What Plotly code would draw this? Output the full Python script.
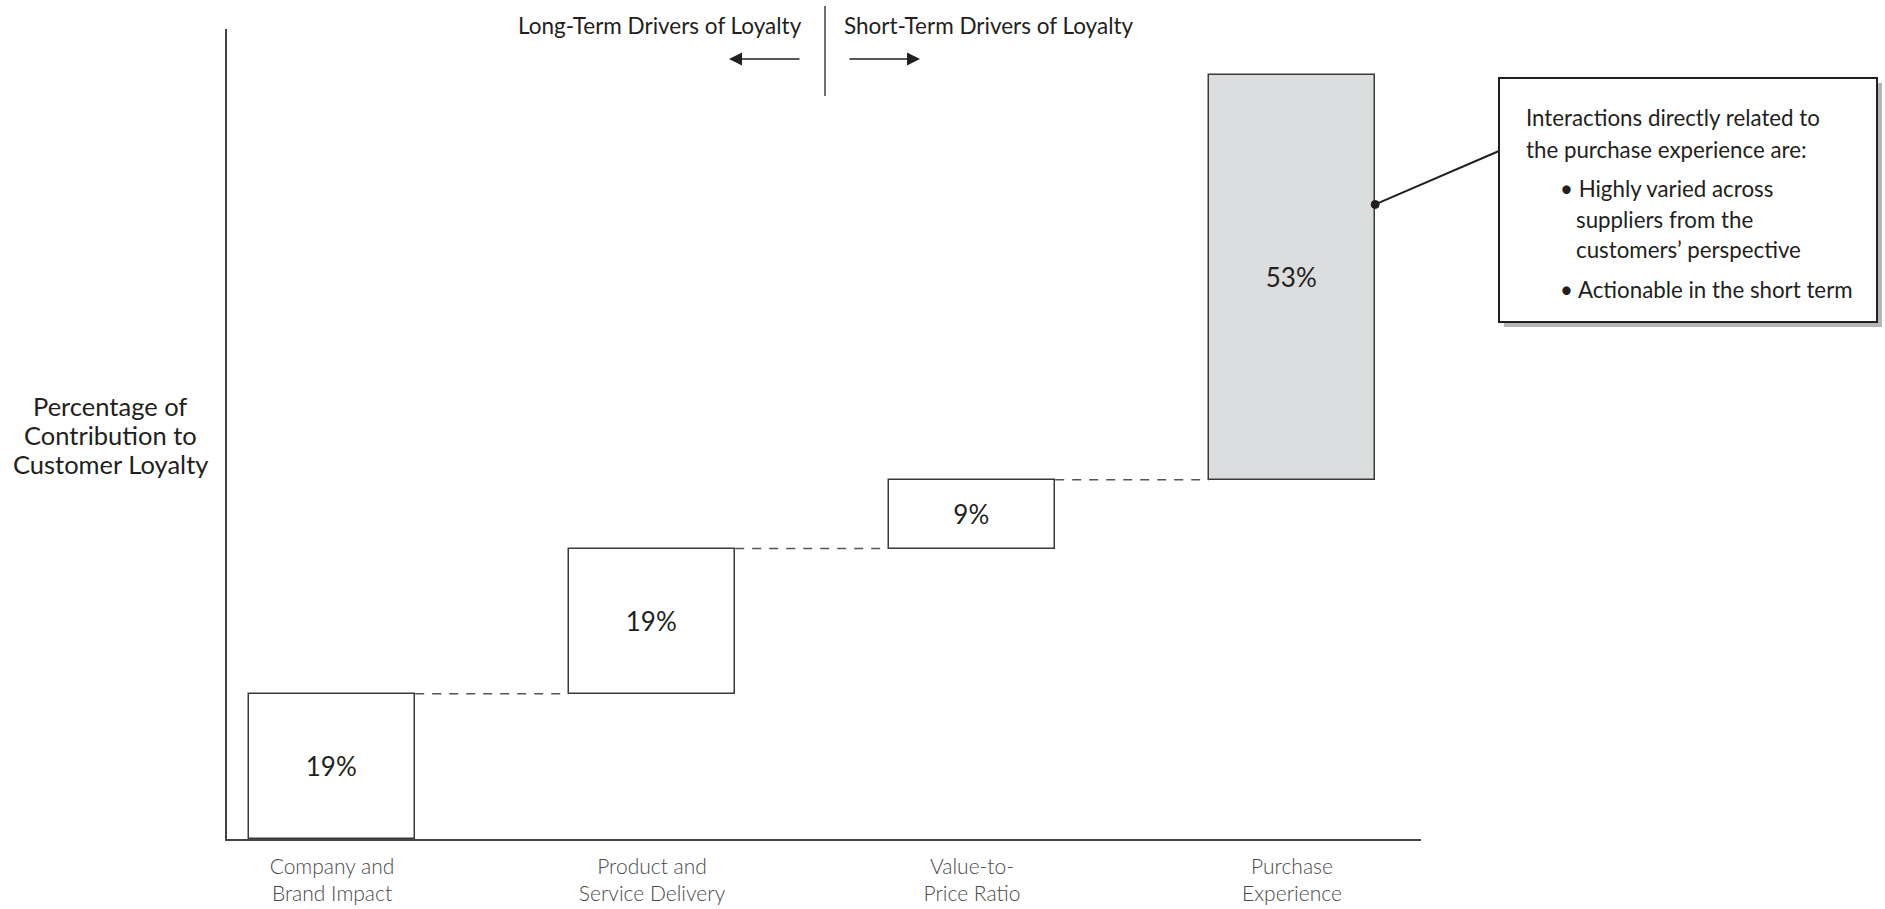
import plotly.graph_objects as go

categories = ["Company and<br>Brand Impact", "Product and<br>Service Delivery",
              "Value-to-<br>Price Ratio", "Purchase<br>Experience"]
values = [19, 19, 9, 53]
labels = ["19%", "19%", "9%", "53%"]
fills = ["#ffffff", "#ffffff", "#ffffff", "#dcdddf"]

ytitle_lines = ["Percentage of", "Contribution to", "Customer Loyalty"]

callout_lines = [
    ("Interactions directly related to", 0),
    ("the purchase experience are:", 0),
    ("• Highly varied across", 1),
    ("suppliers from the", 2),
    ("customers’ perspective", 2),
    ("• Actionable in the short term", 1),
]

W, H = 1885, 909
L, R, T, B = 227, 1421, 29, 839
FONT = "Lato"
INK = "#231f20"

def px(x):
    return (x - L) / (R - L)

def py(y):
    return (B - y) / (B - T)

xs = list(range(len(values)))
bases = []
acc = 0
for v in values:
    bases.append(acc)
    acc += v
bar_w = 0.52
YMAX = 106.0
XMIN, XMAX = (L - 332) / 320, (R - 332) / 320

def data_to_px(xv, yv):
    return (L + (xv - XMIN) / (XMAX - XMIN) * (R - L),
            B - yv / YMAX * (B - T))

fig = go.Figure()
fig.add_trace(go.Bar(
    x=xs, y=values, base=bases, width=bar_w,
    marker=dict(color=fills, line=dict(color="#3a3a3a", width=1.5)),
    text=labels, textposition="inside", insidetextanchor="middle",
    textangle=0, constraintext="none",
    textfont=dict(family=FONT, size=26, color=INK),
    hoverinfo="skip", showlegend=False,
))

shapes = []
# dashed connectors
for i in range(len(values) - 1):
    top = bases[i] + values[i]
    shapes.append(dict(type="line", xref="x", yref="y",
                       x0=xs[i] + bar_w / 2, x1=xs[i + 1] - bar_w / 2,
                       y0=top, y1=top,
                       line=dict(color="#555555", width=1.5, dash="9px,8px")))

# top divider
shapes.append(dict(type="line", xref="paper", yref="paper",
                   x0=px(825), x1=px(825), y0=py(6), y1=py(96),
                   line=dict(color=INK, width=1.3)))

# callout shadow and box
bx0, bx1, by0, by1 = 1499, 1877, 78, 322
shapes.append(dict(type="rect", xref="paper", yref="paper",
                   x0=px(bx0 + 5), x1=px(bx1 + 5), y0=py(by0 + 5), y1=py(by1 + 5),
                   line=dict(width=0), fillcolor="#b5b5b5", layer="above"))
shapes.append(dict(type="rect", xref="paper", yref="paper",
                   x0=px(bx0), x1=px(bx1), y0=py(by0), y1=py(by1),
                   line=dict(color=INK, width=2), fillcolor="#ffffff", layer="above"))
# leader line from bar 4 (paper coords so it is not clipped)
last = len(values) - 1
dot_y = bases[last] + values[last] * 0.68
dpx, dpy = data_to_px(xs[last] + bar_w / 2, dot_y)
shapes.append(dict(type="line", xref="paper", yref="paper",
                   x0=px(dpx), y0=py(dpy), x1=px(bx0), y1=py(151),
                   line=dict(color=INK, width=2), layer="above"))
shapes.append(dict(type="circle", xref="paper", yref="paper",
                   x0=px(dpx - 4), x1=px(dpx + 4), y0=py(dpy - 4), y1=py(dpy + 4),
                   fillcolor=INK, line=dict(color=INK, width=1), layer="above"))

annotations = []
annotations.append(dict(xref="paper", yref="paper", x=px(804), y=py(25),
                        text="Long-Term Drivers of Loyalty", showarrow=False,
                        xanchor="right", yanchor="middle",
                        font=dict(family=FONT, size=22.5, color=INK)))
annotations.append(dict(xref="paper", yref="paper", x=px(842), y=py(25),
                        text="Short-Term Drivers of Loyalty", showarrow=False,
                        xanchor="left", yanchor="middle",
                        font=dict(family=FONT, size=22.5, color=INK)))
# arrows
annotations.append(dict(xref="paper", yref="paper", axref="pixel", ayref="pixel",
                        x=px(729), y=py(59), ax=72, ay=0,
                        text="", showarrow=True, arrowhead=2, arrowsize=2,
                        arrowwidth=1.3, arrowcolor=INK))
annotations.append(dict(xref="paper", yref="paper", axref="pixel", ayref="pixel",
                        x=px(920), y=py(59), ax=-72, ay=0,
                        text="", showarrow=True, arrowhead=2, arrowsize=2,
                        arrowwidth=1.3, arrowcolor=INK))
# y title, line by line
for txt, yy in zip(ytitle_lines, [406, 435, 464]):
    annotations.append(dict(xref="paper", yref="paper", x=px(110), y=py(yy),
                            text=txt, showarrow=False, xanchor="center", yanchor="middle",
                            font=dict(family=FONT, size=25.5, color=INK)))
# callout text
indents = [1524, 1558, 1574]
ys = [118, 149, 188, 219, 250, 289]
for (txt, lvl), yy in zip(callout_lines, ys):
    annotations.append(dict(xref="paper", yref="paper", x=px(indents[lvl]), y=py(yy),
                            text=txt, showarrow=False, xanchor="left", yanchor="middle",
                            font=dict(family=FONT, size=22.3, color=INK)))

fig.update_layout(
    width=W, height=H,
    margin=dict(l=L, r=W - R, t=T, b=H - B, pad=0, autoexpand=False),
    paper_bgcolor="white", plot_bgcolor="white",
    shapes=shapes, annotations=annotations,
    bargap=0,
    xaxis=dict(range=[XMIN, XMAX], automargin=False,
               tickvals=xs, ticktext=categories, showgrid=False, zeroline=False,
               showline=True, linecolor="#444444", linewidth=1.5, ticks="",
               ticklabelstandoff=8,
               tickfont=dict(family=FONT, size=21, color="#4a4a4a", weight=300)),
    yaxis=dict(range=[0, YMAX], automargin=False, showticklabels=False,
               showgrid=False, zeroline=False,
               showline=True, linecolor="#444444", linewidth=1.5, ticks=""),
)

fig.write_html("out.html")
